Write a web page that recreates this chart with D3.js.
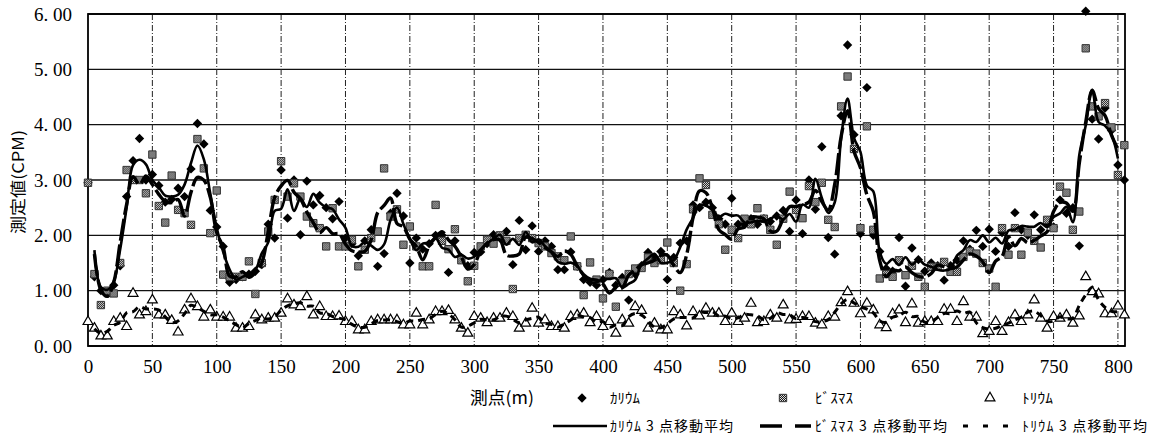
<!DOCTYPE html>
<html><head><meta charset="utf-8">
<script src="https://cdn.jsdelivr.net/npm/d3@7"></script>
<style>body{margin:0;background:#fff}svg{display:block}</style>
</head><body>
<svg id="c" width="1159" height="440"></svg>
<script>
// measuring points (m), every 5 m from 0 to 805
const distances = d3.range(0, 806, 5);
const yTicks = [0, 1, 2, 3, 4, 5, 6];
const xTicks = [0, 50, 100, 150, 200, 250, 300, 350, 400, 450, 500, 550, 600, 650, 700, 750, 800];
const seriesNames = ["ｶﾘｳﾑ", "ﾋﾞｽﾏｽ", "ﾄﾘｳﾑ"];
const maNames = ["ｶﾘｳﾑ 3 点移動平均", "ﾋﾞｽﾏｽ 3 点移動平均", "ﾄﾘｳﾑ 3 点移動平均"];

const potassium = [
2.95,1.25,1.0,0.95,1.1,1.45,2.7,3.35,3.75,3.0,
3.1,2.9,2.6,2.65,2.85,2.7,3.2,4.02,3.65,2.45,
2.15,1.8,1.15,1.2,1.25,1.3,1.35,1.47,2.2,1.95,
3.18,2.31,3.0,2.01,2.98,2.55,2.72,2.5,2.3,2.61,
1.95,1.85,1.63,1.9,2.1,1.44,1.67,2.4,2.76,2.35,
1.5,1.95,1.75,1.85,2.0,2.0,1.33,1.9,1.6,1.45,
1.69,1.7,1.85,2.01,1.95,2.07,1.47,2.27,1.74,2.17,
1.71,1.9,1.8,1.38,1.38,1.7,1.44,1.2,1.15,1.1,
1.2,1.33,1.1,1.24,0.83,1.3,1.45,1.69,1.6,1.71,
1.2,1.6,1.86,1.9,2.55,2.5,2.6,2.5,2.3,2.2,
2.67,2.2,2.2,2.3,2.2,2.3,2.25,2.35,2.45,2.07,
2.64,2.03,3.0,2.47,3.6,1.96,1.66,4.16,5.44,3.82,
2.03,4.67,2.0,1.71,1.4,1.35,1.96,1.08,1.77,1.56,
1.35,1.5,1.45,1.19,1.45,1.55,1.9,1.75,2.09,1.8,
2.11,1.71,2.05,1.8,2.41,2.1,2.0,2.37,2.1,2.2,
2.15,2.64,2.4,2.5,1.81,6.05,4.1,3.74,4.3,3.9,
3.27,3.0];

const bismuth = [
2.95,1.3,0.74,1.0,0.95,1.5,3.18,3.0,3.0,2.76,
3.46,2.53,2.23,3.08,2.46,2.4,2.19,3.74,3.21,2.04,
2.81,1.29,1.25,1.25,1.25,1.53,0.94,1.5,2.07,2.64,
3.34,2.7,2.94,2.7,2.34,2.22,2.13,1.8,2.49,1.8,
1.8,1.92,1.44,1.74,1.95,2.07,3.21,2.34,2.47,1.83,
2.16,1.8,1.44,1.44,2.55,1.9,1.75,2.11,1.55,1.17,
1.45,1.8,1.92,1.85,2.0,1.9,1.03,1.95,2.01,1.95,
1.86,1.8,1.68,1.62,1.55,1.98,1.44,0.92,1.51,1.2,
0.86,1.3,0.71,1.15,1.3,1.4,1.41,1.6,1.5,1.55,
1.87,1.5,1.0,1.48,2.47,3.03,2.91,2.37,2.2,1.74,
2.1,1.95,2.3,2.2,2.49,2.3,2.1,1.83,2.3,2.79,
2.46,2.31,2.89,2.6,2.95,2.28,2.15,4.33,4.87,3.56,
2.13,3.97,2.1,1.22,1.3,1.25,1.55,1.28,1.45,1.25,
1.07,1.43,1.43,1.52,1.34,1.34,1.61,1.71,1.67,1.5,
1.4,1.07,2.13,1.65,2.13,1.65,2.05,1.9,1.78,2.28,
2.13,2.88,2.77,2.1,2.43,5.38,4.33,4.15,4.39,3.95,
3.09,3.63];

const thorium = [
0.44,0.32,0.18,0.18,0.44,0.5,0.35,0.95,0.56,0.62,
0.83,0.56,0.56,0.46,0.25,0.65,0.85,0.71,0.52,0.65,
0.52,0.52,0.52,0.32,0.32,0.35,0.56,0.47,0.5,0.5,
0.59,0.85,0.74,0.71,0.89,0.56,0.71,0.53,0.53,0.54,
0.44,0.44,0.29,0.29,0.44,0.47,0.47,0.47,0.47,0.38,
0.38,0.59,0.38,0.47,0.62,0.62,0.64,0.47,0.32,0.23,
0.53,0.5,0.42,0.5,0.5,0.59,0.53,0.32,0.41,0.68,
0.41,0.47,0.35,0.35,0.32,0.53,0.56,0.59,0.42,0.53,
0.35,0.44,0.23,0.47,0.41,0.71,0.64,0.32,0.41,0.29,
0.29,0.62,0.56,0.36,0.62,0.54,0.68,0.59,0.59,0.44,
0.59,0.44,0.5,0.77,0.42,0.44,0.56,0.5,0.74,0.47,
0.48,0.53,0.53,0.41,0.38,0.53,0.52,0.78,0.98,0.77,
0.58,0.77,0.65,0.38,0.33,0.58,0.65,0.42,0.76,0.41,
0.44,0.44,0.44,0.66,0.66,0.44,0.8,0.52,0.52,0.22,
0.26,0.44,0.26,0.42,0.56,0.44,0.56,0.83,0.5,0.32,
0.53,0.5,0.56,0.41,0.54,1.25,0.98,0.94,0.58,0.58,
0.72,0.56];

const svg = d3.select("#c");
const L = 88, R = 1125, T = 14, B = 346;
const x = d3.scaleLinear().domain([0, 805.5]).range([L, R]);
const y = d3.scaleLinear().domain([0, 6]).range([B, T]);
const serif = "'Liberation Serif', 'DejaVu Serif', serif";
const jp = "'Noto Sans CJK JP', sans-serif";

// checker pattern for bismuth squares
const defs = svg.append("defs");
const pat = defs.append("pattern").attr("id", "chk").attr("width", 2).attr("height", 2)
  .attr("patternUnits", "userSpaceOnUse");
pat.append("rect").attr("width", 2).attr("height", 2).attr("fill", "#dcdcdc");
pat.append("rect").attr("width", 1).attr("height", 1).attr("fill", "#1a1a1a");
pat.append("rect").attr("x", 1).attr("y", 1).attr("width", 1).attr("height", 1).attr("fill", "#1a1a1a");

// grid
svg.append("g").selectAll("line").data(yTicks).join("line")
  .attr("x1", L).attr("x2", R).attr("y1", d => y(d)).attr("y2", d => y(d))
  .attr("stroke", "#111").attr("stroke-width", 1.4);
svg.append("g").selectAll("line").data(xTicks.slice(1)).join("line")
  .attr("x1", d => x(d)).attr("x2", d => x(d)).attr("y1", T).attr("y2", B)
  .attr("stroke", "#222").attr("stroke-width", 1).attr("stroke-dasharray", "6,2,1,2");
svg.append("rect").attr("x", L).attr("y", T).attr("width", R - L).attr("height", B - T)
  .attr("fill", "none").attr("stroke", "#000").attr("stroke-width", 1.8);

// axes labels
const fmt = d => d.toFixed(2).replace(".", ". ");
const yAxis = d3.axisLeft(y).tickValues(yTicks).tickFormat(fmt).tickSize(0).tickPadding(16);
svg.append("g").attr("transform", `translate(${L},0)`).call(yAxis)
  .call(g => g.select(".domain").remove())
  .call(g => g.attr("font-family", null).attr("font-size", null))
  .call(g => g.selectAll("text").style("font-family", serif).style("font-size", "19px").attr("fill", "#000"));
const xAxis = d3.axisBottom(x).tickValues(xTicks).tickFormat(d3.format("d")).tickSize(0).tickPadding(14);
svg.append("g").attr("transform", `translate(0,${B})`).call(xAxis)
  .call(g => g.select(".domain").remove())
  .call(g => g.attr("font-family", null).attr("font-size", null))
  .call(g => g.selectAll("text").style("font-family", serif).style("font-size", "19px").attr("fill", "#000"));

svg.append("text").attr("transform", "translate(24,182) rotate(-90)")
  .attr("text-anchor", "middle").style("font-family", jp).style("font-size", "16px")
  .attr("textLength", 104).attr("lengthAdjust", "spacingAndGlyphs")
  .text("測定値(CPM)");
svg.append("text").attr("x", 502).attr("y", 404).attr("text-anchor", "middle")
  .style("font-family", jp).style("font-size", "17px")
  .attr("textLength", 64).attr("lengthAdjust", "spacingAndGlyphs").text("測点(m)");

// markers
const idx = distances.map((d, i) => i);
const diamond = d3.symbol().type(d3.symbolSquare).size(44);
const square = d3.symbol().type(d3.symbolSquare).size(54);
const tri = d3.symbol().type(d3.symbolTriangle).size(42);

const plot = svg.append("g");
plot.append("g").selectAll("path").data(idx).join("path")
  .attr("transform", i => `translate(${x(distances[i])},${y(thorium[i])})`)
  .attr("d", tri).attr("fill", "#fff").attr("stroke", "#000").attr("stroke-width", 1.2);
plot.append("g").selectAll("path").data(idx).join("path")
  .attr("transform", i => `translate(${x(distances[i])},${y(potassium[i])}) rotate(45)`)
  .attr("d", diamond).attr("fill", "#000");
plot.append("g").selectAll("path").data(idx).join("path")
  .attr("transform", i => `translate(${x(distances[i])},${y(bismuth[i])})`)
  .attr("d", square).attr("fill", "url(#chk)").attr("stroke", "#333").attr("stroke-width", 1);

// 3-point moving averages (centered)
function ma(arr) {
  return distances.map((d, i) => (i === 0 || i === arr.length - 1) ? null
    : [d, (arr[i - 1] + arr[i] + arr[i + 1]) / 3]).filter(v => v);
}
const line = d3.line().x(d => x(d[0])).y(d => y(d[1])).curve(d3.curveCatmullRom.alpha(0.5));
plot.append("path").attr("d", line(ma(thorium))).attr("fill", "none")
  .attr("stroke", "#000").attr("stroke-width", 3).attr("stroke-dasharray", "7,5");
plot.append("path").attr("d", line(ma(bismuth))).attr("fill", "none")
  .attr("stroke", "#000").attr("stroke-width", 3.4).attr("stroke-dasharray", "22,4");
plot.append("path").attr("d", line(ma(potassium))).attr("fill", "none")
  .attr("stroke", "#000").attr("stroke-width", 2.6);

// legend
const lg = svg.append("g").style("font-family", jp).style("font-size", "14px").attr("fill", "#000");
const row1 = 398, row2 = 426;
lg.append("path").attr("transform", `translate(582,${row1}) rotate(45)`).attr("d", diamond).attr("fill", "#000");
lg.append("path").attr("transform", `translate(783,${row1})`).attr("d", square).attr("fill", "url(#chk)").attr("stroke", "#333");
lg.append("path").attr("transform", `translate(990,${row1})`).attr("d", tri).attr("fill", "#fff").attr("stroke", "#000").attr("stroke-width", 1.2);
[[610, 30, seriesNames[0]], [815, 38, seriesNames[1]], [1022, 31, seriesNames[2]]].forEach(([px, w, t]) =>
  lg.append("text").attr("x", px).attr("y", row1 + 5).attr("textLength", w)
    .attr("lengthAdjust", "spacingAndGlyphs").text(t));
lg.append("line").attr("x1", 553).attr("x2", 607).attr("y1", row2).attr("y2", row2)
  .attr("stroke", "#000").attr("stroke-width", 2.6);
lg.append("line").attr("x1", 760).attr("x2", 811).attr("y1", row2).attr("y2", row2)
  .attr("stroke", "#000").attr("stroke-width", 3.4).attr("stroke-dasharray", "22,13,16");
lg.append("line").attr("x1", 963).attr("x2", 1008).attr("y1", row2).attr("y2", row2)
  .attr("stroke", "#000").attr("stroke-width", 3).attr("stroke-dasharray", "5,15");
[[610, 123, maNames[0]], [815, 132, maNames[1]], [1022, 125, maNames[2]]].forEach(([px, w, t]) =>
  lg.append("text").attr("x", px).attr("y", row2 + 5).attr("textLength", w)
    .attr("lengthAdjust", "spacing").text(t));
</script>
</body></html>
